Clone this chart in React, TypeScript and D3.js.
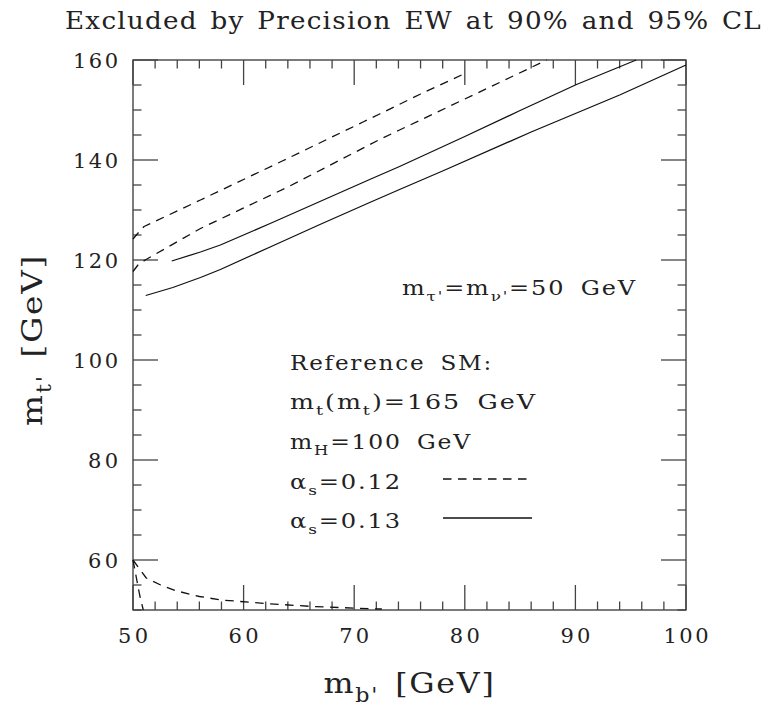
import React from 'react';
import * as d3 from 'd3';

const xDomain = [50, 100];
const yDomain = [50, 160];
const xTickValues = [50, 60, 70, 80, 90, 100];
const yTickValues = [60, 80, 100, 120, 140, 160];

// alpha_s = 0.12 (dashed) contours
const dashedUpper: [number, number][] = [[50, 124.2], [50.5, 125.5], [51, 126.7], [56.1, 132.0], [63.5, 139.8], [70.8, 147.6], [72.3, 149.2], [76, 153.2], [80, 157.3]];
const dashedLower: [number, number][] = [[50, 117.7], [50.45, 119.0], [51.1, 120.0], [56.1, 126.3], [64, 134.6], [72.3, 144.1], [74.1, 146.0], [80, 152.2], [84, 156.4], [87.4, 160]];
const dashedLowA: [number, number][] = [[50, 60], [51.2, 56.4], [52.5, 55], [53.8, 53.9], [56, 52.7], [58, 52.0], [62, 51.3], [66.2, 50.7], [70.4, 50.35], [72.5, 50.2]];
const dashedLowB: [number, number][] = [[50, 60], [50.3, 56.5], [50.6, 53], [50.93, 50]];
// alpha_s = 0.13 (solid) contours
const solidUpper: [number, number][] = [[53.5, 119.8], [56.1, 121.6], [57.9, 123.0], [62.4, 127.3], [66.9, 131.7], [71.4, 136.1], [74.1, 138.7], [80, 144.7], [85, 149.9], [90.1, 155.1], [95.5, 160]];
const solidLower: [number, number][] = [[51.15, 112.9], [53.6, 114.5], [56.1, 116.5], [57.9, 118.1], [62.4, 122.6], [66.9, 127.1], [71.4, 131.5], [74.1, 134.1], [78.2, 138.0], [86, 145.6], [94, 153.0], [100, 159]];

const titleText = 'Excluded by Precision EW at 90% and 95% CL';

type Part = [string, boolean?];
const massLabel: Part[] = [['m'], ['τ\'', true], ['=m'], ['ν\'', true], ['=50 GeV']];
const refLines: Part[][] = [
  [['Reference SM:']],
  [['m'], ['t', true], ['(m'], ['t', true], [')=165 GeV']],
  [['m'], ['H', true], ['=100 GeV']],
  [['α'], ['s', true], ['=0.12']],
  [['α'], ['s', true], ['=0.13']],
];
const refWidths = [203, 247, 182, 112, 112];
const refBaselines = [370, 409, 449, 489, 528];
const xTitle: Part[] = [['m'], ['b\'', true], [' [GeV]']];
const yTitle: Part[] = [['m'], ['t\'', true], [' [GeV]']];

const FONT = '"DejaVu Serif", "Liberation Serif", serif';

function rich(parts: Part[], fs: number) {
  const out: JSX.Element[] = [];
  let down = false;
  parts.forEach(([t, sub], i) => {
    let dy = 0;
    if (sub && !down) { dy = fs * 0.32; down = true; }
    else if (!sub && down) { dy = -fs * 0.32; down = false; }
    out.push(
      <tspan key={i} dy={dy || undefined} fontSize={sub ? fs * 0.7 : fs}>{t}</tspan>
    );
  });
  return out;
}

export default function App() {
  const x = d3.scaleLinear().domain(xDomain).range([133, 686]);
  const y = d3.scaleLinear().domain(yDomain).range([610, 60]);
  const line = d3.line<[number, number]>().x(d => x(d[0])).y(d => y(d[1])).curve(d3.curveLinear);

  const xMinor = d3.range(xDomain[0], xDomain[1] + 0.01, 2).filter(v => !xTickValues.includes(v));
  const yMinor = d3.range(yDomain[0], yDomain[1] + 0.01, 5).filter(v => !yTickValues.includes(v));
  const MAJ = 25, MIN = 8.5;
  const tickStroke = '#444';
  const x0 = x(xDomain[0]), x1 = x(xDomain[1]), y0 = y(yDomain[0]), y1 = y(yDomain[1]);

  const dash = '8.5,6.5';
  const curveColor = '#111';
  const txt = '#222';

  return (
    <svg width={768} height={708} style={{ position: 'absolute', left: 0, top: 0, background: '#fff' }} fontFamily={FONT}>
      <rect x={0} y={0} width={768} height={708} fill="#fff" />
      {/* title */}
      <text x={65} y={29} fontSize={25} letterSpacing={1.2} wordSpacing={3} textLength={697} lengthAdjust="spacingAndGlyphs" fill={txt}>{titleText}</text>

      {/* frame */}
      <rect x={x0} y={y1} width={x1 - x0} height={y0 - y1} fill="none" stroke={tickStroke} strokeWidth={1.4} />
      {xTickValues.map(v => (
        <g key={'xM' + v} stroke={tickStroke} strokeWidth={1.3}>
          <line x1={x(v)} x2={x(v)} y1={y0} y2={y0 - MAJ} />
          <line x1={x(v)} x2={x(v)} y1={y1} y2={y1 + MAJ} />
        </g>
      ))}
      {xMinor.map(v => (
        <g key={'xm' + v} stroke={tickStroke} strokeWidth={1.3}>
          <line x1={x(v)} x2={x(v)} y1={y0} y2={y0 - MIN} />
          <line x1={x(v)} x2={x(v)} y1={y1} y2={y1 + MIN} />
        </g>
      ))}
      {yTickValues.map(v => (
        <g key={'yM' + v} stroke={tickStroke} strokeWidth={1.3}>
          <line x1={x0} x2={x0 + MAJ} y1={y(v)} y2={y(v)} />
          <line x1={x1} x2={x1 - MAJ} y1={y(v)} y2={y(v)} />
        </g>
      ))}
      {yMinor.map(v => (
        <g key={'ym' + v} stroke={tickStroke} strokeWidth={1.3}>
          <line x1={x0} x2={x0 + MIN} y1={y(v)} y2={y(v)} />
          <line x1={x1} x2={x1 - MIN} y1={y(v)} y2={y(v)} />
        </g>
      ))}

      {/* tick labels */}
      {xTickValues.map(v => {
        const s = String(v);
        return (
          <text key={'xl' + v} x={x(v)} y={643} fontSize={21} textAnchor="middle" textLength={s.length * 15} lengthAdjust="spacing" fill={txt}>{s}</text>
        );
      })}
      {yTickValues.map(v => {
        const s = String(v);
        return (
          <text key={'yl' + v} x={118} y={y(v) + 8} fontSize={21} textAnchor="end" textLength={s.length * 15} lengthAdjust="spacing" fill={txt}>{s}</text>
        );
      })}

      {/* axis titles */}
      <text x={(x0 + x1) / 2} y={693} fontSize={28} letterSpacing={1.5} wordSpacing={4} textAnchor="middle" textLength={172} lengthAdjust="spacingAndGlyphs" fill={txt}>{rich(xTitle, 28)}</text>
      <text transform={`translate(42, ${(y0 + y1) / 2 + 5}) rotate(-90)`} fontSize={28} letterSpacing={1.5} wordSpacing={4} textAnchor="middle" textLength={172} lengthAdjust="spacingAndGlyphs" fill={txt}>{rich(yTitle, 28)}</text>

      {/* curves */}
      <g fill="none" stroke={curveColor} strokeWidth={1.3} strokeLinejoin="round">
        <path d={line(dashedUpper) || ''} strokeDasharray={dash} />
        <path d={line(dashedLower) || ''} strokeDasharray={dash} />
        <path d={line(dashedLowA) || ''} strokeDasharray={dash} />
        <path d={line(dashedLowB) || ''} strokeDasharray={dash} />
        <path d={line(solidUpper) || ''} />
        <path d={line(solidLower) || ''} />
      </g>

      {/* annotations */}
      <text x={402} y={295} fontSize={19.5} letterSpacing={1.5} wordSpacing={5} textLength={235} lengthAdjust="spacingAndGlyphs" fill={txt}>{rich(massLabel, 19.5)}</text>
      {refLines.map((parts, i) => (
        <text key={'r' + i} x={290} y={refBaselines[i]} fontSize={19.5} letterSpacing={1.5} wordSpacing={5} textLength={refWidths[i]} lengthAdjust="spacingAndGlyphs" fill={txt}>{rich(parts, 19.5)}</text>
      ))}
      <line x1={443} x2={531} y1={479} y2={479} stroke={curveColor} strokeWidth={1.3} strokeDasharray={dash} />
      <line x1={443} x2={532} y1={518} y2={518} stroke={curveColor} strokeWidth={1.3} />
    </svg>
  );
}
